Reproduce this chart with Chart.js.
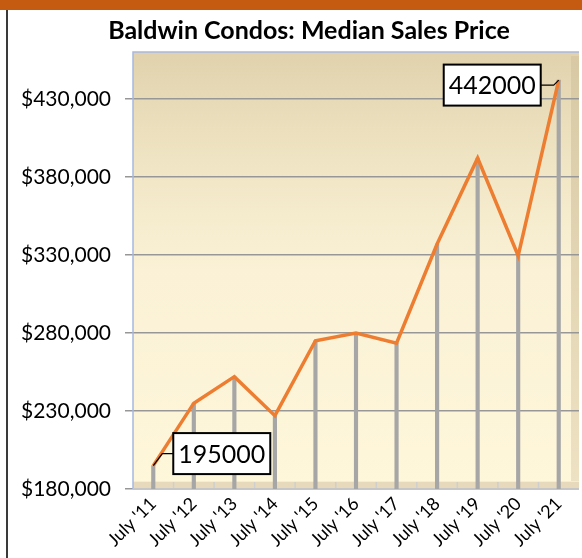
<!DOCTYPE html>
<html>
<head>
<meta charset="utf-8">
<script src="https://cdn.jsdelivr.net/npm/chart.js@4.4.0/dist/chart.umd.min.js"></script>
<style>
  html, body { margin: 0; padding: 0; background: #fff; }
  #wrap { position: relative; width: 582px; height: 558px; overflow: hidden; }
  .band { position: absolute; left: 0; top: 0; width: 582px; height: 10px; background: #c55a11; }
  .edge { position: absolute; left: 6px; top: 10px; width: 2px; height: 548px; background: #3a3a3a; }
  canvas { position: absolute; left: 0; top: 0; }
</style>
</head>
<body>
<div id="wrap">
  <div class="band"></div>
  <div class="edge"></div>
  <canvas id="priceChart" width="582" height="558"></canvas>
</div>
<script>
// --- DATA ---
const years = ["July '11", "July '12", "July '13", "July '14", "July '15", "July '16",
               "July '17", "July '18", "July '19", "July '20", "July '21"];
const medianPrice = [195000, 235000, 252000, 227000, 275000, 280000,
                     273500, 337000, 392000, 329500, 442000];
const yTicks = [180000, 230000, 280000, 330000, 380000, 430000];
const yMin = 180000;
const yMax = 460000;
// Only the first and the last point get a value callout.
const calloutIdx = [0, 10];
const chartTitle = 'Baldwin Condos: Median Sales Price';

const FONT = 'Lato, "Open Sans", sans-serif';

// Drop lines from each point to the floor, drawn as thin floating bars.
const dropLines = medianPrice.map(v => [yMin, v]);

// Plot-area backdrop: beige gradient wall, a floor strip and a side wall strip.
const backdrop = {
    id: 'backdrop',
    beforeDraw(chart) {
        const { ctx, chartArea: a } = chart;
        const xs = chart.scales.x;
        ctx.save();
        const g = ctx.createLinearGradient(0, a.top, 0, a.bottom);
        g.addColorStop(0, '#e1d2ad');
        g.addColorStop(0.3, '#f2e8c8');
        g.addColorStop(0.5, '#faf1d6');
        g.addColorStop(1, '#fff7da');
        ctx.fillStyle = g;
        ctx.fillRect(a.left, a.top, a.right - a.left, a.bottom - a.top);
        // right side wall
        const w = ctx.createLinearGradient(0, a.top, 0, a.bottom);
        w.addColorStop(0, '#d8c9a4');
        w.addColorStop(1, '#eee2c4');
        ctx.fillStyle = w;
        ctx.fillRect(a.right - 8, a.top + 4, 8, a.bottom - a.top - 4);
        // floor
        ctx.fillStyle = '#e7d9bc';
        ctx.fillRect(a.left, a.bottom - 8, a.right - a.left, 8);
        ctx.fillStyle = '#f4ecd6';
        ctx.fillRect(a.left, a.bottom - 8, a.right - a.left, 1);
        // category boundary ticks on the floor
        const half = (xs.getPixelForValue(1) - xs.getPixelForValue(0)) / 2;
        ctx.strokeStyle = '#cfcfcf';
        ctx.lineWidth = 1.5;
        ctx.beginPath();
        for (let i = 1; i < years.length; i++) {
            const x = xs.getPixelForValue(i) - half;
            ctx.moveTo(x, a.bottom - 7);
            ctx.lineTo(x, a.bottom);
        }
        ctx.stroke();
        ctx.restore();
    },
    beforeDatasetsDraw(chart) {
        const { ctx, chartArea: a } = chart;
        ctx.save();
        ctx.strokeStyle = '#a6b8e0';
        ctx.lineWidth = 1.5;
        ctx.beginPath();
        ctx.moveTo(a.left, a.bottom);
        ctx.lineTo(a.left, a.top);
        ctx.lineTo(a.right, a.top);
        ctx.stroke();
        ctx.strokeStyle = '#c6c6c6';
        ctx.lineWidth = 2;
        ctx.beginPath();
        ctx.moveTo(a.left, a.bottom);
        ctx.lineTo(a.right, a.bottom);
        ctx.stroke();
        ctx.restore();
    },
    // Title sits a bit right of the canvas centre, as in the source sheet.
    afterDraw(chart) {
        const { ctx, chartArea: a } = chart;
        ctx.save();
        ctx.font = 'bold 25px ' + FONT;
        ctx.fillStyle = '#000';
        ctx.textAlign = 'center';
        ctx.textBaseline = 'middle';
        ctx.fillText(chartTitle, (a.left + a.right) / 2 - 47, 31);
        ctx.restore();
    }
};

// Boxed value labels with a short leader line back to the point.
const callouts = {
    id: 'callouts',
    afterDatasetsDraw(chart) {
        const { ctx } = chart;
        const pts = chart.getDatasetMeta(0).data;
        ctx.save();
        ctx.font = '25px ' + FONT;
        ctx.textAlign = 'center';
        ctx.textBaseline = 'middle';
        calloutIdx.forEach(i => {
            const p = pts[i];
            const bw = 97, bh = 41;
            let bx, by, kneeX, kneeY, endX;
            if (i === 0) {
                kneeY = p.y - 12;
                bx = p.x + 20; by = kneeY - bh / 2;
                kneeX = p.x + 9; endX = bx;
            } else {
                kneeY = p.y + 5;
                bx = p.x - 115; by = kneeY - bh / 2;
                kneeX = p.x - 5; endX = bx + bw;
            }
            ctx.strokeStyle = '#000';
            ctx.lineWidth = 1.2;
            ctx.beginPath();
            ctx.moveTo(p.x, p.y);
            ctx.lineTo(kneeX, kneeY);
            ctx.lineTo(endX, kneeY);
            ctx.stroke();
            ctx.fillStyle = '#fff';
            ctx.fillRect(bx, by, bw, bh);
            ctx.lineWidth = 2;
            ctx.strokeRect(bx, by, bw, bh);
            ctx.fillStyle = '#000';
            ctx.fillText(String(medianPrice[i]), bx + bw / 2, by + bh / 2 + 1);
        });
        ctx.restore();
    }
};

const chart = new Chart(document.getElementById('priceChart'), {
    data: {
        labels: years,
        datasets: [
            {
                type: 'line', label: 'Median Sales Price', data: medianPrice,
                borderColor: '#ed7d31', borderWidth: 3.5, pointRadius: 0,
                tension: 0, order: 0
            },
            {
                type: 'bar', label: 'drop', data: dropLines,
                backgroundColor: '#a6a6a6', barThickness: 3.5, order: 1
            }
        ]
    },
    options: {
        responsive: false,
        animation: false,
        layout: { padding: { left: 0, right: 3, top: 52, bottom: 0 } },
        plugins: {
            legend: { display: false },
            tooltip: { enabled: false },
            title: { display: false }
        },
        scales: {
            x: {
                offset: true,
                grid: { display: false, drawTicks: false },
                border: { display: false },
                ticks: {
                    color: '#000', font: { family: FONT, size: 18 },
                    minRotation: 45, maxRotation: 45, padding: 4, autoSkip: false
                },
                afterFit(s) { s.height = 69; }
            },
            y: {
                min: yMin, max: yMax,
                border: { display: false },
                grid: { color: '#979797', lineWidth: 1.5, tickLength: 8 },
                ticks: {
                    color: '#000', font: { family: FONT, size: 21 }, padding: 14,
                    callback: v => '$' + v.toLocaleString('en-US')
                },
                afterBuildTicks(s) { s.ticks = yTicks.map(v => ({ value: v })); },
                afterFit(s) { s.width = 133; }
            }
        }
    },
    plugins: [backdrop, callouts]
});
</script>
</body>
</html>
